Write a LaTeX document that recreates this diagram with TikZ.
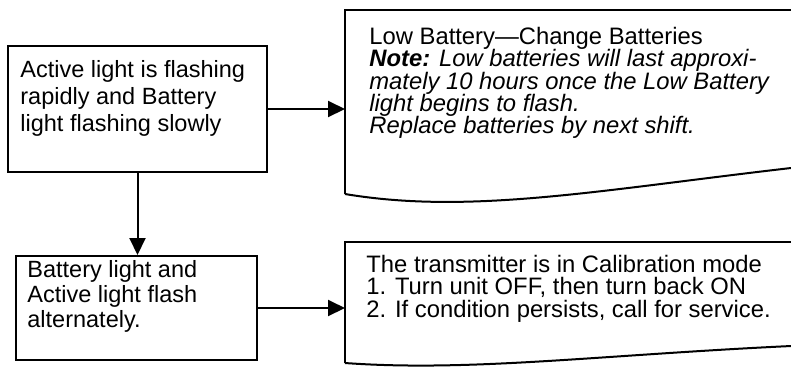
\documentclass[tikz,border=0pt]{standalone}
\usepackage{fontspec}
\setmainfont{Liberation Sans}
\usetikzlibrary{arrows.meta}
\lineskiplimit=-20pt

\begin{document}
\begin{tikzpicture}[
    x=0.5pt, y=-0.5pt,
    >={Triangle[length=8.5pt, width=8pt]},
    state/.style={draw, line width=1pt, inner sep=0pt},
    boxtext/.style={anchor=north west, inner sep=0pt, align=left, font=\fontsize{11.75}{13.4}\selectfont},
    doctext/.style={anchor=north west, inner sep=0pt, align=left, font=\fontsize{11.9}{11.1}\selectfont},
    docline/.style={line width=1pt},
    flow/.style={->, line width=1pt}
]
\useasboundingbox (0,0) rectangle (791,371);

% left column
\node[state, minimum width=129.5pt, minimum height=63pt] (flashslow) at (137.5,109) {};
\node[boxtext] (flashslowtxt) at (20,60) {Active light is flashing\\rapidly and Battery\\light flashing slowly};

\node[state, minimum width=120.5pt, minimum height=52pt] (flashalt) at (136.5,308) {};
\node[boxtext, font=\fontsize{11.75}{12.4}\selectfont] (flashalttxt) at (27,260) {Battery light and\\Active light flash\\alternately.};

% documents
\draw[docline] (345,194) -- (345,10) -- (791,10);
\draw[docline] (345,194) .. controls (470,215) and (600,190) .. (791,168);
\coordinate (lowbatin) at (345,109);
\node[doctext] (lowbat) at (369,27) {Low Battery---Change Batteries\\
    \itshape\textbf{Note:} Low batteries will last approxi-\\
    \itshape mately 10 hours once the Low Battery\\
    \itshape light begins to flash.\\
    \itshape Replace batteries by next shift.};

\draw[docline] (345,363) -- (345,242) -- (791,242);
\draw[docline] (345,363) .. controls (470,372) and (600,355) .. (791,346);
\coordinate (calmodein) at (345,308);
\node[doctext] (calmode) at (366,255) {The transmitter is in Calibration mode\\
    1. Turn unit OFF, then turn back ON\\
    2. If condition persists, call for service.};

% connectors
\draw[flow] (flashslow.east) -- (lowbatin);
\draw[flow] (flashslow.south) -- (flashslow.south |- flashalt.north);
\draw[flow] (flashalt.east) -- (calmodein);

\end{tikzpicture}
\end{document}
